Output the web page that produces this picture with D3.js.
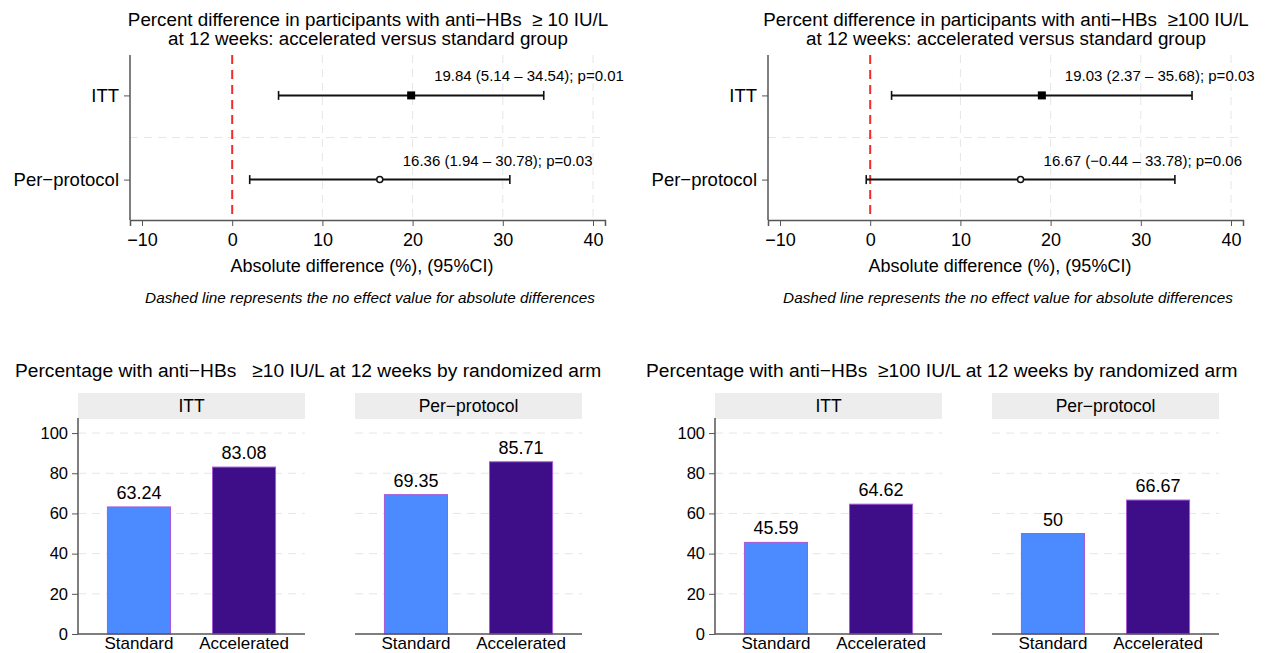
<!DOCTYPE html>
<html>
<head>
<meta charset="utf-8">
<script src="https://cdn.jsdelivr.net/npm/d3@7"></script>
<style>
  body { margin: 0; background: #fff; }
  svg { display: block; font-family: "Liberation Sans", Arial, sans-serif; }
</style>
</head>
<body>
<div id="chart"></div>
<script>
// forest plot data
var rowLabels = ["ITT", "Per\u2212protocol"];
var xTicks = [-10, 0, 10, 20, 30, 40];

var est10 = [19.84, 16.36];
var lo10 = [5.14, 1.94];
var hi10 = [34.54, 30.78];
var p10 = ["0.01", "0.03"];

var est100 = [19.03, 16.67];
var lo100 = [2.37, -0.44];
var hi100 = [35.68, 33.78];
var p100 = ["0.03", "0.06"];

// bar chart data
var arms = ["Standard", "Accelerated"];
var facets = ["ITT", "Per\u2212protocol"];
var bar10ITT = [63.24, 83.08];
var bar10PP = [69.35, 85.71];
var bar100ITT = [45.59, 64.62];
var bar100PP = [50, 66.67];
var yTicks = [0, 20, 40, 60, 80, 100];

var armColors = ["#4b8bff", "#3d0e87"];

var svg = d3.select("#chart")
  .append("svg")
  .attr("width", 1265)
  .attr("height", 653);

function fmt(v) {
  return v.toFixed(2).replace("-", "\u2212");
}

// draws one forest panel
function forestPanel(opts) {
  var g = svg.append("g");
  var x = d3.scaleLinear()
    .domain([-11.33, 41.33])
    .range([opts.left, opts.left + 475]);
  var y = d3.scalePoint()
    .domain(rowLabels)
    .range([55, 220])
    .padding(0.48);

  // title (two lines)
  var cx = opts.left + 238;
  var title = g.append("text").attr("x", cx).attr("y", 26).attr("text-anchor", "middle")
    .attr("font-size", 18.8).attr("xml:space", "preserve");
  title.append("tspan").attr("x", cx).text(opts.title1);
  title.append("tspan").attr("x", cx).attr("dy", 19).text("at 12 weeks: accelerated versus standard group");

  // grid
  g.selectAll(".vgrid")
    .data(xTicks.filter(d => d > 0))
    .enter().append("line")
    .attr("x1", d => x(d)).attr("x2", d => x(d))
    .attr("y1", 55).attr("y2", 220)
    .attr("stroke", "#e6e6e6").attr("stroke-dasharray", "8,6");
  g.append("line")
    .attr("x1", opts.left).attr("x2", opts.left + 475)
    .attr("y1", (y(rowLabels[0]) + y(rowLabels[1])) / 2)
    .attr("y2", (y(rowLabels[0]) + y(rowLabels[1])) / 2)
    .attr("stroke", "#e6e6e6").attr("stroke-dasharray", "8,6");

  // no-effect line
  g.append("line")
    .attr("x1", x(0)).attr("x2", x(0))
    .attr("y1", 55).attr("y2", 220)
    .attr("stroke", "#f52a2a").attr("stroke-width", 2)
    .attr("stroke-dasharray", "9,6");

  // axes
  var bottomAxis = d3.axisBottom(x).tickValues(xTicks).tickSize(6)
    .tickFormat(d => String(d).replace("-", "\u2212"));
  var xAxis = g.append("g")
    .attr("transform", `translate(0, 220)`)
    .call(bottomAxis);
  xAxis.select(".domain").attr("stroke", "#555").attr("stroke-width", 1.5);
  xAxis.selectAll(".tick line").attr("stroke", "#555");
  xAxis.selectAll("text").attr("font-size", 18).attr("fill", "#000").attr("dy", "0.95em");

  var leftAxis = d3.axisLeft(y).tickSize(6).tickPadding(5);
  var yAxis = g.append("g")
    .attr("transform", `translate(${opts.left}, 0)`)
    .call(leftAxis);
  yAxis.select(".domain").attr("d", "M0,55V220").attr("stroke", "#555").attr("stroke-width", 1.5);
  yAxis.selectAll(".tick line").attr("stroke", "#555");
  yAxis.selectAll("text").attr("font-size", 18.5).attr("fill", "#000");

  // error bars
  rowLabels.forEach(function(r, i) {
    var yy = y(r);
    g.append("line").attr("x1", x(opts.lo[i])).attr("x2", x(opts.hi[i]))
      .attr("y1", yy).attr("y2", yy).attr("stroke", "#111").attr("stroke-width", 2);
    [opts.lo[i], opts.hi[i]].forEach(function(v) {
      g.append("line").attr("x1", x(v)).attr("x2", x(v))
        .attr("y1", yy - 4.5).attr("y2", yy + 4.5)
        .attr("stroke", "#111").attr("stroke-width", 1.6);
    });
    if (i === 0) {
      g.append("rect").attr("x", x(opts.est[i]) - 4).attr("y", yy - 4)
        .attr("width", 8).attr("height", 8).attr("fill", "#000");
    } else {
      g.append("circle").attr("cx", x(opts.est[i])).attr("cy", yy).attr("r", 3)
        .attr("fill", "#fff").attr("stroke", "#111").attr("stroke-width", 1.5);
    }
    g.append("text")
      .attr("x", x(opts.est[i]) + 23).attr("y", yy - 14)
      .attr("font-size", 15)
      .text(`${fmt(opts.est[i])} (${fmt(opts.lo[i])} \u2013 ${fmt(opts.hi[i])}); p=${opts.p[i]}`);
  });

  // axis title and note
  g.append("text").attr("x", opts.left + 232).attr("y", 272).attr("text-anchor", "middle")
    .attr("font-size", 18).text("Absolute difference (%), (95%CI)");
  g.append("text").attr("x", opts.left + 240).attr("y", 303).attr("text-anchor", "middle")
    .attr("font-size", 15.3).attr("font-style", "italic")
    .text("Dashed line represents the no effect value for absolute differences");
}

forestPanel({
  left: 130,
  title1: "Percent difference in participants with anti\u2212HBs  \u2265 10 IU/L",
  est: est10, lo: lo10, hi: hi10, p: p10
});
forestPanel({
  left: 768,
  title1: "Percent difference in participants with anti\u2212HBs  \u2265100 IU/L",
  est: est100, lo: lo100, hi: hi100, p: p100
});

// bar panels
function barPanel(opts) {
  var g = svg.append("g");
  var y = d3.scaleLinear().domain([0, 107.5]).range([634, 418]);

  g.append("text").attr("x", opts.titleX).attr("y", 377)
    .attr("font-size", 19.2).attr("xml:space", "preserve").text(opts.title);

  [opts.itt, opts.pp].forEach(function(vals, f) {
    var left = opts.left + f * opts.gap;
    var x = d3.scaleBand().domain(arms).range([left, left + 227])
      .paddingInner(0.4).paddingOuter(0.28);

    // strip
    g.append("rect").attr("x", left).attr("y", 393).attr("width", 227).attr("height", 26)
      .attr("fill", "#ededed");
    g.append("text").attr("x", left + 113.5).attr("y", 412).attr("text-anchor", "middle")
      .attr("font-size", 17.5).text(facets[f]);

    // grid
    g.selectAll(null)
      .data(yTicks.filter(d => d > 0))
      .enter().append("line")
      .attr("x1", left).attr("x2", left + 227)
      .attr("y1", d => y(d)).attr("y2", d => y(d))
      .attr("stroke", "#e6e6e6").attr("stroke-dasharray", "8,6");

    // bars
    g.selectAll(null)
      .data(vals)
      .enter().append("rect")
      .attr("x", (d, i) => x(arms[i]))
      .attr("y", d => y(d))
      .attr("width", x.bandwidth())
      .attr("height", d => y(0) - y(d))
      .attr("fill", (d, i) => armColors[i])
      .attr("stroke", "#a65ad6").attr("stroke-width", 1);

    g.selectAll(null)
      .data(vals)
      .enter().append("text")
      .attr("x", (d, i) => x(arms[i]) + x.bandwidth() / 2)
      .attr("y", d => y(d) - 8)
      .attr("text-anchor", "middle")
      .attr("font-size", 18)
      .text(d => d);

    var xAxis = g.append("g")
      .attr("transform", `translate(0, 634)`)
      .call(d3.axisBottom(x).tickSize(0));
    xAxis.select(".domain").attr("d", `M${left},0H${left + 227}`).attr("stroke", "#555").attr("stroke-width", 1.5);
    xAxis.selectAll("text").attr("font-size", 17).attr("fill", "#000")
      .attr("y", 15).attr("dy", 0);

    if (f === 0) {
      var yAxis = g.append("g")
        .attr("transform", `translate(${left}, 0)`)
        .call(d3.axisLeft(y).tickValues(yTicks).tickSize(6).tickPadding(4));
      yAxis.select(".domain").attr("d", "M0,418V634").attr("stroke", "#555").attr("stroke-width", 1.5);
      yAxis.selectAll(".tick line").attr("stroke", "#555");
      yAxis.selectAll("text").attr("font-size", 16.5).attr("fill", "#000");
    }
  });
}

barPanel({
  left: 78, gap: 277, titleX: 15,
  title: "Percentage with anti\u2212HBs   \u226510 IU/L at 12 weeks by randomized arm",
  itt: bar10ITT, pp: bar10PP
});
barPanel({
  left: 715, gap: 277, titleX: 646,
  title: "Percentage with anti\u2212HBs  \u2265100 IU/L at 12 weeks by randomized arm",
  itt: bar100ITT, pp: bar100PP
});
</script>
</body>
</html>
